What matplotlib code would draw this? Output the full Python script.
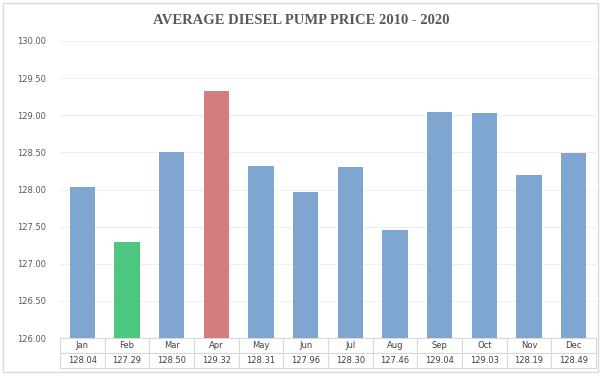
import matplotlib.pyplot as plt
import numpy as np
from matplotlib.patches import Rectangle

months = ["Jan", "Feb", "Mar", "Apr", "May", "Jun", "Jul", "Aug", "Sep", "Oct", "Nov", "Dec"]
prices = [128.04, 127.29, 128.50, 129.32, 128.31, 127.96, 128.30, 127.46, 129.04, 129.03, 128.19, 128.49]
highlight = {"Feb": "#4DC67F", "Apr": "#D37E7E"}
base_color = "#7FA5D1"

W, H = 602, 376
fig = plt.figure(figsize=(W / 100, H / 100), dpi=100, facecolor="white")
fig.patches.append(Rectangle((3 / W, 4 / H), 595 / W, 369 / H, transform=fig.transFigure,
                             fill=False, edgecolor="#D9D9D9", lw=1))

ax = fig.add_axes([60 / W, (H - 338) / H, 536 / W, 297 / H])
x = np.arange(len(months))
colors = [highlight.get(m, base_color) for m in months]
ax.bar(x, prices, width=0.56, color=colors, zorder=2)
ax.set_xlim(-0.5, len(months) - 0.5)
ax.set_ylim(126, 130)
ax.set_yticks(np.arange(126, 130.01, 0.5))
ax.set_yticklabels(["%.2f" % v for v in np.arange(126, 130.01, 0.5)], fontsize=6, color="#595959")
ax.tick_params(axis="y", length=0, pad=10)
ax.set_xticks([])
ax.grid(axis="y", color="#F0F0F0", lw=0.8, zorder=0)
for s in ax.spines.values():
    s.set_visible(False)

tbl = ax.table(cellText=[months, ["%.2f" % p for p in prices]], cellLoc="center",
               bbox=[0, -30 / 297, 1, 30 / 297])
tbl.auto_set_font_size(False)
for (r, c), cell in tbl.get_celld().items():
    cell.set_edgecolor("#D9D9D9")
    cell.set_linewidth(0.8)
    cell.get_text().set_fontsize(6)
    cell.get_text().set_color("#404040")

fig.text(0.5, (H - 20) / H, "AVERAGE DIESEL PUMP PRICE 2010 - 2020", ha="center", va="center",
         fontsize=10.5, fontweight="bold", family="Liberation Serif", color="#595959")

fig.savefig("out.png", dpi=100, facecolor="white")
